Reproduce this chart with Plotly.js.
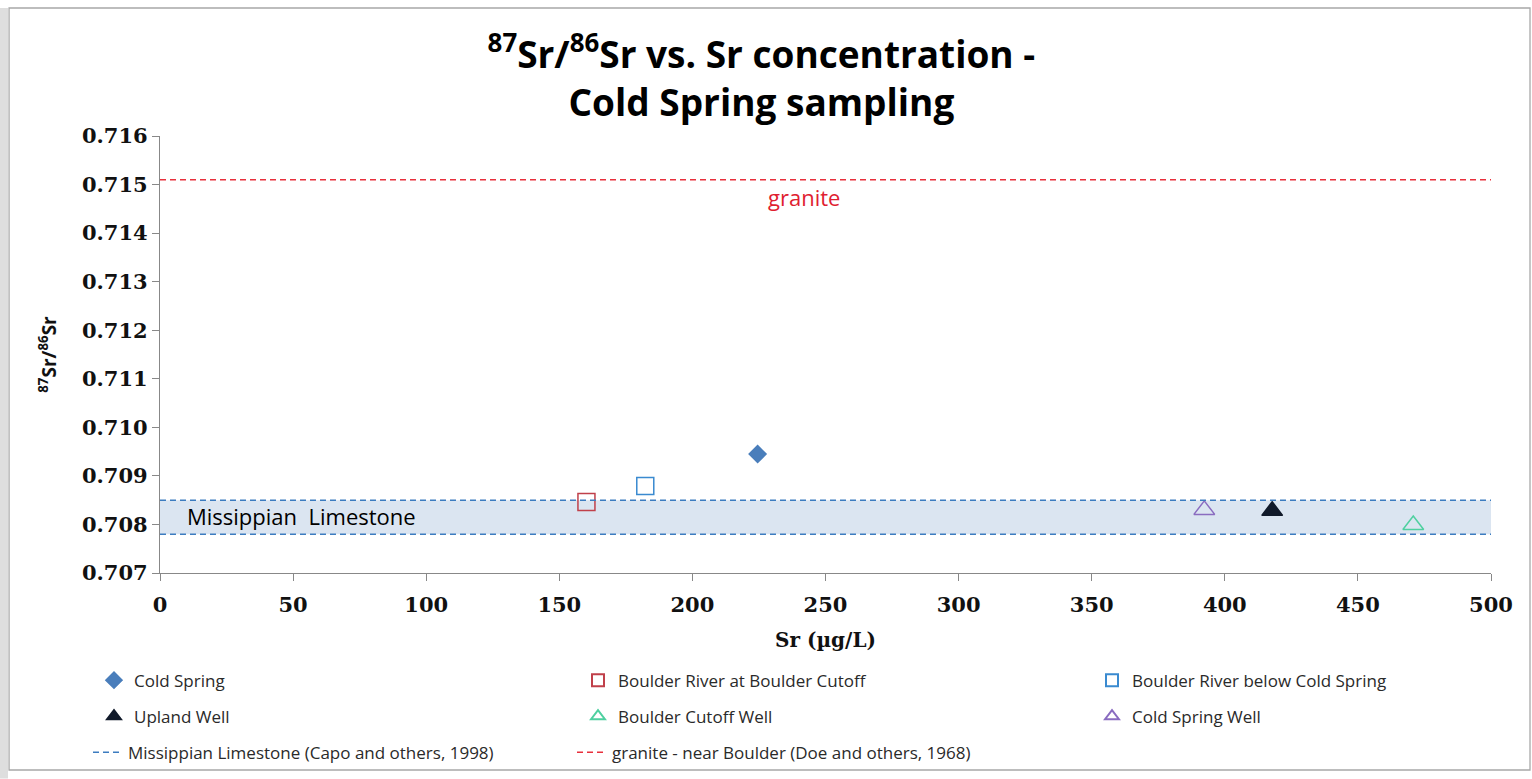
<!DOCTYPE html>
<html>
<head>
<meta charset="utf-8">
<script src="https://cdn.plot.ly/plotly-3.0.1.min.js"></script>
<style>html,body{margin:0;padding:0;background:#fff;}#chart{width:1532px;height:779px;}</style>
</head>
<body>
<div id="chart"></div>
<script>
// Data
const seriesNames = ["Cold Spring", "Boulder River at Boulder Cutoff", "Boulder River below Cold Spring",
                     "Upland Well", "Boulder Cutoff Well", "Cold Spring Well"];
const srConc = [224.5, 160.2, 182.3, 417.8, 470.8, 392.3];          // Sr (µg/L)
const srRatio = [0.70945, 0.70846, 0.70879, 0.70828, 0.70799, 0.70830]; // 87Sr/86Sr
const limestoneRange = [0.7078, 0.7085];   // Missippian Limestone (Capo and others, 1998)
const graniteValue = 0.7151;               // granite - near Boulder (Doe and others, 1968)
const xRange = [0, 500];
const yRange = [0.707, 0.716];
const refNames = ["Missippian Limestone (Capo and others, 1998)", "granite - near Boulder (Doe and others, 1968)"];

const styles = [
  {symbol: "diamond", color: "#4a7ebb", size: 13, legend: "legend"},
  {symbol: "square-open", color: "#c0404a", size: 17, legend: "legend2"},
  {symbol: "square-open", color: "#3a8ad0", size: 17, legend: "legend3"},
  {symbol: "triangle-up", color: "#111a2a", size: 18, legend: "legend"},
  {symbol: "triangle-up-open", color: "#4fd0a0", size: 18, legend: "legend2"},
  {symbol: "triangle-up-open", color: "#8a6cc0", size: 18, legend: "legend3"}
];

const traces = seriesNames.map((n, i) => ({
  type: "scatter", mode: "markers", name: n,
  x: [srConc[i]], y: [srRatio[i]],
  legend: styles[i].legend, legendgroup: "g" + i,
  marker: {symbol: styles[i].symbol, color: styles[i].color, size: styles[i].size,
           line: {color: styles[i].color, width: 1.5}},
  cliponaxis: false
}));

traces.push({
  type: "scatter", mode: "lines", name: refNames[0], legend: "legend4", legendgroup: "g6",
  x: [xRange[0], xRange[1], null, xRange[0], xRange[1]],
  y: [limestoneRange[0], limestoneRange[0], null, limestoneRange[1], limestoneRange[1]],
  line: {color: "#3c7cc0", width: 1.5, dash: "6px,4px"}
});
traces.push({
  type: "scatter", mode: "lines", name: refNames[1], legend: "legend5", legendgroup: "g7",
  x: [xRange[0], xRange[1]], y: [graniteValue, graniteValue],
  line: {color: "#e8303c", width: 1.5, dash: "6px,4px"}
});

const serif = "DejaVu Serif, Liberation Serif, serif";
const sans = "Open Sans, Noto Sans, sans-serif";

const legFont = {family: sans, size: 17, color: "#2a2a2a"};
const legBase = {orientation: "v", xanchor: "left", yanchor: "top", y: -0.205,
                 font: legFont, bgcolor: "rgba(0,0,0,0)", tracegroupgap: 11, itemwidth: 30,
                 itemsizing: "constant"};
const legLine = Object.assign({}, legBase, {y: -0.205 - 72 / 437, itemsizing: "trace"});

const layout = {
  width: 1532, height: 779,
  paper_bgcolor: "#ffffff", plot_bgcolor: "rgba(0,0,0,0)",
  margin: {l: 160, r: 41, t: 136, b: 206, autoexpand: false},
  title: {
    text: "<b><sup>87</sup>Sr/<sup>86</sup>Sr vs. Sr concentration -<br>Cold Spring sampling</b>",
    font: {family: sans, size: 37, color: "#000"},
    xref: "container", x: 0.497, xanchor: "center",
    yref: "paper", y: 1.03, yanchor: "bottom"
  },
  xaxis: {
    range: xRange, dtick: 50, tick0: 0, showgrid: false, zeroline: false,
    showline: true, linecolor: "#888", linewidth: 1.3,
    ticks: "outside", ticklen: 7, tickcolor: "#888", ticklabelstandoff: 6,
    tickfont: {family: serif, size: 21, color: "#111", weight: "bold"},
    title: {text: "<b>Sr (µg/L)</b>", font: {family: serif, size: 20, color: "#111"}, standoff: 16}
  },
  yaxis: {
    range: yRange, dtick: 0.001, tick0: 0.707, tickformat: ".3f", showgrid: false, zeroline: false,
    showline: true, linecolor: "#888", linewidth: 1.3,
    ticks: "outside", ticklen: 7, tickcolor: "#888",
    tickfont: {family: serif, size: 21, color: "#111", weight: "bold"},
    title: {text: "<b><sup>87</sup>Sr/<sup>86</sup>Sr</b>", font: {family: sans, size: 19, color: "#111"}, standoff: 20}
  },
  legend: Object.assign({}, legBase, {x: (94 - 160) / 1331}),
  legend2: Object.assign({}, legBase, {x: (578 - 160) / 1331}),
  legend3: Object.assign({}, legBase, {x: (1092 - 160) / 1331}),
  legend4: Object.assign({}, legLine, {x: (88 - 160) / 1331}),
  legend5: Object.assign({}, legLine, {x: (572 - 160) / 1331}),
  shapes: [
    {type: "rect", xref: "paper", yref: "paper", x0: -0.1134, x1: 1.0293, y0: -0.4508, y1: 1.2929,
     line: {color: "#a8a8a8", width: 1.3}, fillcolor: "rgba(0,0,0,0)", layer: "below"},
    {type: "rect", xref: "paper", yref: "paper", x0: -0.1202, x1: -0.1142, y0: -0.47, y1: 1.2929,
     line: {width: 0}, fillcolor: "#dedede", layer: "below"},
    {type: "rect", xref: "x", yref: "y", x0: xRange[0], x1: xRange[1], y0: limestoneRange[0], y1: limestoneRange[1],
     line: {width: 0}, fillcolor: "#dbe5f1", layer: "below"}
  ],
  annotations: [
    {xref: "x", yref: "y", x: 242, y: 0.71475, text: "granite", showarrow: false,
     xanchor: "center", yanchor: "middle", font: {family: sans, size: 22, color: "#e02030"}},
    {xref: "x", yref: "y", x: 9.4, y: 0.70818, text: "Missippian  Limestone",
     showarrow: false, xanchor: "left", yanchor: "middle", font: {family: sans, size: 22, color: "#000"}}
  ],
  showlegend: true
};

Plotly.newPlot("chart", traces, layout, {displayModeBar: false, responsive: false});
</script>
</body>
</html>
